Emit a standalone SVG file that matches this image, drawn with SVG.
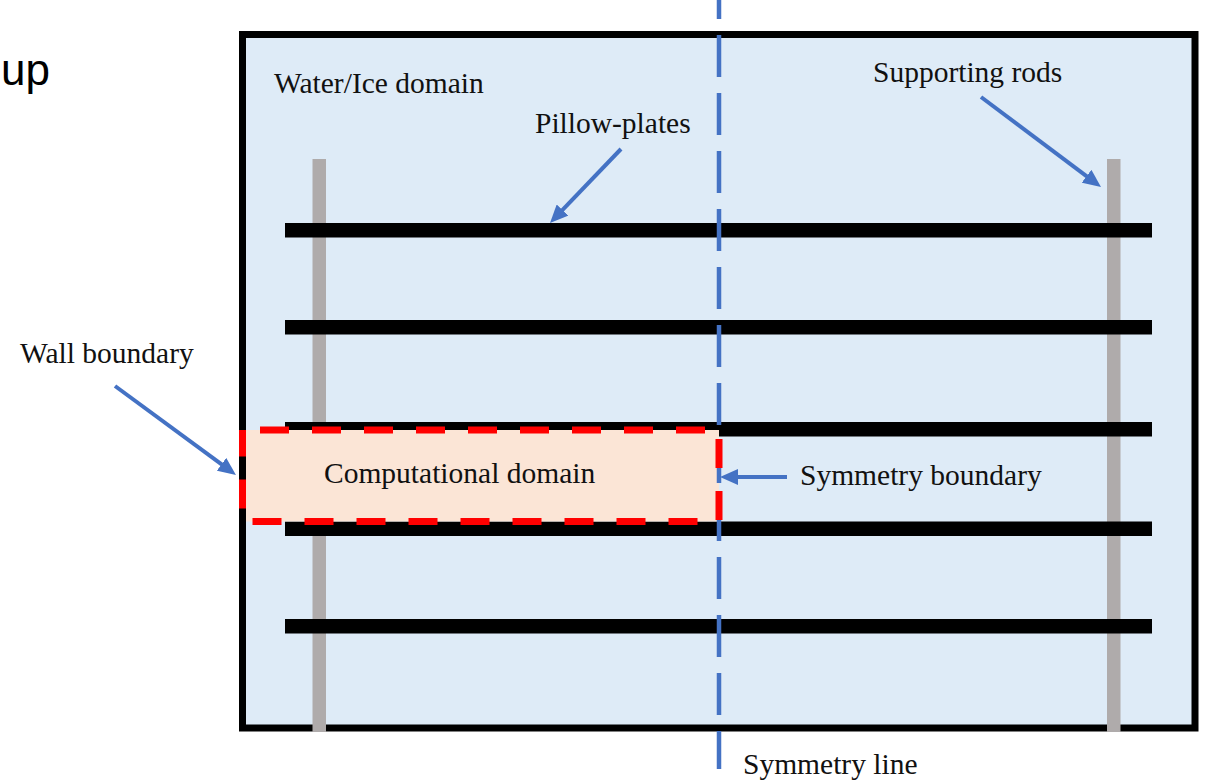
<svg xmlns="http://www.w3.org/2000/svg" width="1207" height="781" viewBox="0 0 1207 781">
  <defs>
    <marker id="arrow" viewBox="0 0 18 16" refX="4" refY="8" markerWidth="18" markerHeight="16" markerUnits="userSpaceOnUse" orient="auto">
      <path d="M0,0 L18,8 L0,16 z" fill="#4472C4"/>
    </marker>
    <style>
      .lbl { font-family: "Liberation Serif", "Times New Roman", serif; font-size: 29.5px; fill: #111111; }
      .title { font-family: "Liberation Sans", Arial, sans-serif; font-size: 44px; fill: #000000; }
      .rod { fill: #AFABAB; }
      .plate { fill: #000000; }
      .conn { stroke: #4472C4; stroke-width: 4; fill: none; marker-end: url(#arrow); }
    </style>
  </defs>
  <rect x="0" y="0" width="1207" height="781" fill="#FFFFFF"/>

  <text class="title" x="1" y="85">up</text>

  <g id="water-domain">
    <rect x="242.5" y="34.5" width="952.5" height="693.5" fill="#DEEBF7" stroke="#000000" stroke-width="7"/>
    <text class="lbl" x="274" y="93">Water/Ice domain</text>
  </g>

  <g id="supporting-rods">
    <rect class="rod" x="312.5" y="159" width="13.5" height="573"/>
    <rect class="rod" x="1107" y="159" width="13.5" height="573"/>
    <text class="lbl" x="873" y="82">Supporting rods</text>
  </g>

  <g id="pillow-plates">
    <rect class="plate" x="285" y="223" width="867" height="14.5"/>
    <rect class="plate" x="285" y="320" width="867" height="14.5"/>
    <rect class="plate" x="285" y="422" width="867" height="14.5"/>
    <rect class="plate" x="285" y="521.5" width="867" height="14.5"/>
    <rect class="plate" x="285" y="619" width="867" height="14.5"/>
    <text class="lbl" x="535" y="133">Pillow-plates</text>
  </g>

  <g id="computational-domain">
    <rect x="246" y="430" width="473" height="91.5" fill="#FBE5D6"/>
  </g>

  <g id="symmetry-line">
    <line x1="719" y1="-23" x2="719" y2="769" stroke="#4472C4" stroke-width="4.5" stroke-dasharray="42 16"/>
    <text class="lbl" x="743" y="774">Symmetry line</text>
  </g>

  <g id="computational-domain-border">
    <rect x="242.5" y="430" width="476.5" height="91.5" fill="none" stroke="#FF0000" stroke-width="7" stroke-dasharray="29 23" stroke-dashoffset="34.5"/>
    <text class="lbl" x="324" y="483">Computational domain</text>
  </g>

  <g id="wall-boundary-label">
    <text class="lbl" x="20" y="363">Wall boundary</text>
  </g>

  <g id="symmetry-boundary-label">
    <text class="lbl" x="800" y="485">Symmetry boundary</text>
  </g>

  <g id="connectors">
    <line class="conn" x1="621" y1="149" x2="559.7" y2="212.9"/>
    <line class="conn" x1="981" y1="97" x2="1089.8" y2="178.6"/>
    <line class="conn" x1="115" y1="386" x2="224.7" y2="466.7"/>
    <line class="conn" x1="787" y1="477" x2="734" y2="477"/>
  </g>
</svg>
